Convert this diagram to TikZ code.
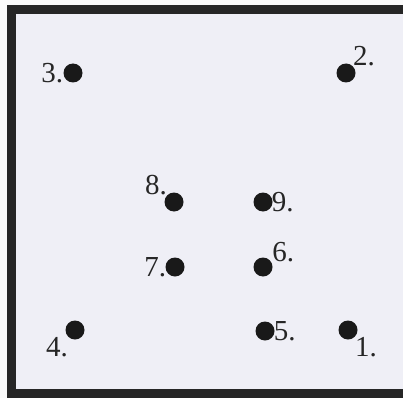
\documentclass[tikz,border=0pt]{standalone}
\usepackage{fontspec}
\setmainfont{Liberation Serif}
\usepackage{tikz}

\begin{document}
\begin{tikzpicture}[x=1pt, y=-1pt,
  dot/.style={circle, fill=black!90, inner sep=0pt, minimum size=19pt},
  lbl/.style={font=\fontsize{29}{29}\selectfont, inner sep=0pt, text=black!85}]
\useasboundingbox (0,0) rectangle (403,398);
\fill[white!96!gray] (0,0) rectangle (403,398);
\fill[blue!3!white!93!gray] (11,9) rectangle (403,394);
\draw[line width=9pt, black!85] (403,9.5) -- (11.5,9.5) -- (11.5,393.5) -- (403,393.5);

\node[dot, label={[lbl, label distance=0pt]left:3.}] (p3) at (73,73) {};
\node[dot, label={[lbl, label distance=0pt]above right:2.}] (p2) at (346,73) {};
\node[dot, label={[lbl, label distance=0pt]above left:8.}] (p8) at (174,202) {};
\node[dot, label={[lbl, label distance=-1pt]right:9.}] (p9) at (263,202) {};
\node[dot, label={[lbl, label distance=-1pt]left:7.}] (p7) at (175,267) {};
\node[dot, label={[lbl, label distance=1pt]30:6.}] (p6) at (263,267) {};
\node[dot, label={[lbl, label distance=0pt]below left:4.}] (p4) at (75,330) {};
\node[dot, label={[lbl, label distance=-1pt]right:5.}] (p5) at (265,331) {};
\node[dot, label={[lbl, label distance=0pt]below right:1.}] (p1) at (348,330) {};
\end{tikzpicture}
\end{document}
